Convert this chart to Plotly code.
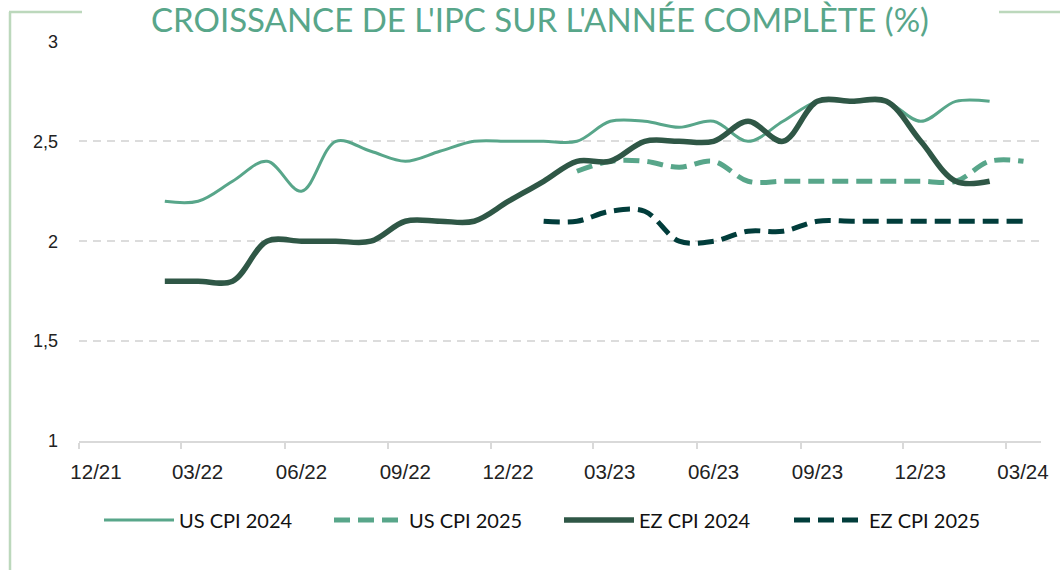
import plotly.graph_objects as go

# ---- data ----
months_2024 = ["2022-02", "2022-03", "2022-04", "2022-05", "2022-06", "2022-07", "2022-08",
               "2022-09", "2022-10", "2022-11", "2022-12", "2023-01", "2023-02", "2023-03",
               "2023-04", "2023-05", "2023-06", "2023-07", "2023-08", "2023-09", "2023-10",
               "2023-11", "2023-12", "2024-01", "2024-02"]
us_cpi_2024 = [2.2, 2.2, 2.3, 2.4, 2.25, 2.5, 2.45, 2.4, 2.45, 2.5, 2.5, 2.5, 2.5, 2.6,
               2.6, 2.57, 2.6, 2.5, 2.6, 2.7, 2.7, 2.7, 2.6, 2.7, 2.7]
ez_cpi_2024 = [1.8, 1.8, 1.8, 2.0, 2.0, 2.0, 2.0, 2.1, 2.1, 2.1, 2.2, 2.3, 2.4, 2.4,
               2.5, 2.5, 2.5, 2.6, 2.5, 2.7, 2.7, 2.7, 2.5, 2.3, 2.3]

months_us_2025 = ["2023-02", "2023-03", "2023-04", "2023-05", "2023-06", "2023-07", "2023-08",
                  "2023-09", "2023-10", "2023-11", "2023-12", "2024-01", "2024-02", "2024-03"]
us_cpi_2025 = [2.35, 2.4, 2.4, 2.37, 2.4, 2.3, 2.3, 2.3, 2.3, 2.3, 2.3, 2.3, 2.4, 2.4]

months_ez_2025 = ["2023-01", "2023-02", "2023-03", "2023-04", "2023-05", "2023-06", "2023-07",
                  "2023-08", "2023-09", "2023-10", "2023-11", "2023-12", "2024-01", "2024-02",
                  "2024-03"]
ez_cpi_2025 = [2.1, 2.1, 2.15, 2.15, 2.0, 2.0, 2.05, 2.05, 2.1, 2.1, 2.1, 2.1, 2.1, 2.1, 2.1]

title_text = "CROISSANCE DE L'IPC SUR L'ANNÉE COMPLÈTE (%)"

LIGHT = "#58A68A"
DARK = "#2F5746"
DARKEST = "#013D3B"

fig = go.Figure()
common = dict(mode="lines", xperiod="M1", xperiodalignment="middle")
fig.add_trace(go.Scatter(x=months_2024, y=us_cpi_2024, name="US CPI 2024",
                         line=dict(color=LIGHT, width=3, shape="spline", smoothing=1.0), **common))
fig.add_trace(go.Scatter(x=months_us_2025, y=us_cpi_2025, name="US CPI 2025",
                         line=dict(color=LIGHT, width=5, dash="16px,8px", shape="spline", smoothing=1.0), **common))
fig.add_trace(go.Scatter(x=months_2024, y=ez_cpi_2024, name="EZ CPI 2024",
                         line=dict(color=DARK, width=5.5, shape="spline", smoothing=1.0), **common))
fig.add_trace(go.Scatter(x=months_ez_2025, y=ez_cpi_2025, name="EZ CPI 2025",
                         line=dict(color=DARKEST, width=5, dash="16px,8px", shape="spline", smoothing=1.0), **common))

L, R, T, B = 79, 19, 41, 129
W, H = 1060, 570
pw, ph = W - L - R, H - T - B

def px_x(p):
    return (p - L) / pw

def px_y(p):
    return (H - B - p) / ph

frame = "#BCD8BC"
fig.add_shape(type="line", xref="paper", yref="paper", x0=px_x(10), x1=px_x(10),
              y0=px_y(12), y1=px_y(575), line=dict(color=frame, width=2.5))
fig.add_shape(type="line", xref="paper", yref="paper", x0=px_x(9), x1=px_x(82),
              y0=px_y(12), y1=px_y(12), line=dict(color=frame, width=2.5))
fig.add_shape(type="line", xref="paper", yref="paper", x0=px_x(999), x1=px_x(1065),
              y0=px_y(12), y1=px_y(12), line=dict(color=frame, width=2.5))

fig.update_layout(
    width=W, height=H,
    margin=dict(l=L, r=R, t=T, b=B, autoexpand=False),
    paper_bgcolor="white", plot_bgcolor="white",
    separators=", ",
    title=dict(text=title_text, x=540 / W, xanchor="center", xref="container",
               y=1 - 20 / H, yanchor="middle", yref="container",
               font=dict(family="Lato", size=33, color=LIGHT)),
    font=dict(family="Liberation Sans", color="#222222"),
    legend=dict(orientation="h", x=px_x(99), xanchor="left", y=px_y(520), yanchor="middle",
                entrywidth=145, entrywidthmode="pixels", itemwidth=70,
                font=dict(family="Lato", size=20, color="#111111"), bgcolor="rgba(0,0,0,0)"),
    showlegend=True,
)

fig.update_xaxes(
    type="date", range=["2021-12-01", "2024-04-01"],
    tick0="2021-12-01", dtick="M3", tickformat="%m/%y",
    ticks="outside", ticklen=6, tickwidth=2, tickcolor="#D9D9D9",
    showline=True, linecolor="#D9D9D9", linewidth=2,
    showgrid=False, zeroline=False,
    ticklabelshift=17, ticklabelstandoff=5,
    tickfont=dict(family="Liberation Sans", size=20.5, color="#222222"),
    fixedrange=True,
)
fig.update_yaxes(
    range=[1, 3.002], tickvals=[1, 1.5, 2, 2.5, 3],
    showgrid=True, gridcolor="#DCDCDC", gridwidth=2, griddash="8px,6px",
    zeroline=False, showline=False, ticks="",
    ticklabelstandoff=20,
    tickfont=dict(family="Liberation Sans", size=18, color="#222222"),
    fixedrange=True,
)

fig.write_html("out.html", config={"displayModeBar": False},
               post_script="document.body.style.margin='0px';")
